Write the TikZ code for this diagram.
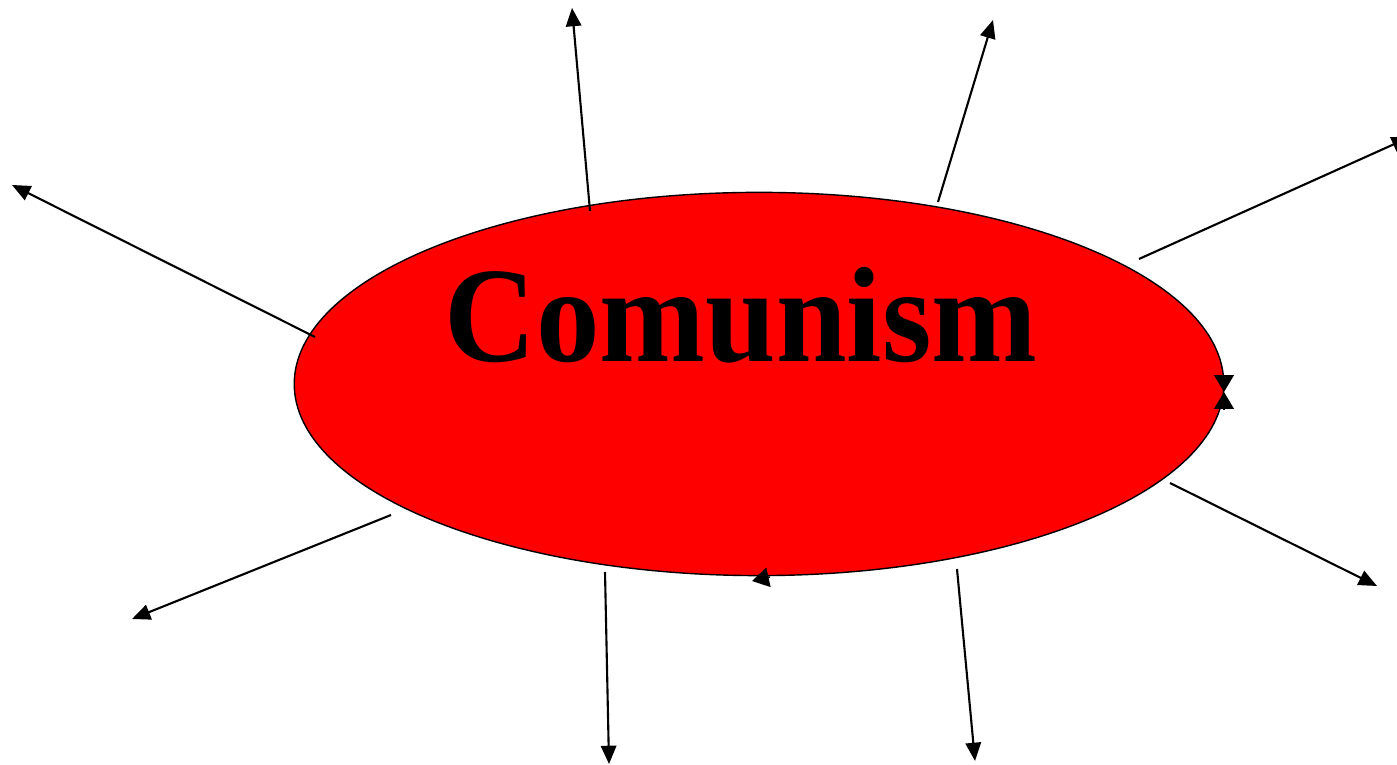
\documentclass[tikz,border=0pt]{standalone}
\usepackage{fontspec}
\setmainfont{Liberation Serif}
\usetikzlibrary{arrows.meta,shapes.geometric}

\tikzset{
  spoke/.style={line width=0.6pt, -{Triangle[length=5.2pt,width=4.4pt]}},
  stub/.style={-{Triangle[length=4.8pt,width=5.6pt]}},
}

\begin{document}
\begin{tikzpicture}[x=0.01cm, y=-0.01cm]
\useasboundingbox (0,0) rectangle (1397,765);
% the red oval
\node[ellipse, draw=black, line width=0.4pt, fill=red, inner sep=0pt,
      minimum width=9.29cm, minimum height=3.83cm] (comm) at (759,384) {};
\node[anchor=base, yscale=1.07, transform shape, font=\bfseries\fontsize{36.1}{40}\selectfont] (title) at (741,362) {Comunism};
% spoke ends
\coordinate (a1) at (315,337); \coordinate (b1) at (12,185);
\coordinate (a2) at (590,211); \coordinate (b2) at (572,8);
\coordinate (a3) at (938,202); \coordinate (b3) at (993,20);
\coordinate (a4) at (1139,259); \coordinate (b4) at (1410,137);
\coordinate (a5) at (1170,483); \coordinate (b5) at (1377,586);
\coordinate (a6) at (957,569); \coordinate (b6) at (975,761);
\coordinate (a7) at (605,572); \coordinate (b7) at (609,764);
\coordinate (a8) at (391,515); \coordinate (b8) at (132,619);
\draw[spoke] (a1) -- (b1);
\draw[spoke] (a2) -- (b2);
\draw[spoke] (a3) -- (b3);
\draw[spoke] (a4) -- (b4);
\draw[spoke] (a5) -- (b5);
\draw[spoke] (a6) -- (b6);
\draw[spoke] (a7) -- (b7);
\draw[spoke] (a8) -- (b8);
% stray heads on the rim
\coordinate (h) at (1224,392);
\draw[stub] (1224,375) -- (h);
\draw[stub] (1224,409) -- (h);
\coordinate (g) at (752,581);
\draw[stub] (770,577) -- (g);
\end{tikzpicture}
\end{document}
